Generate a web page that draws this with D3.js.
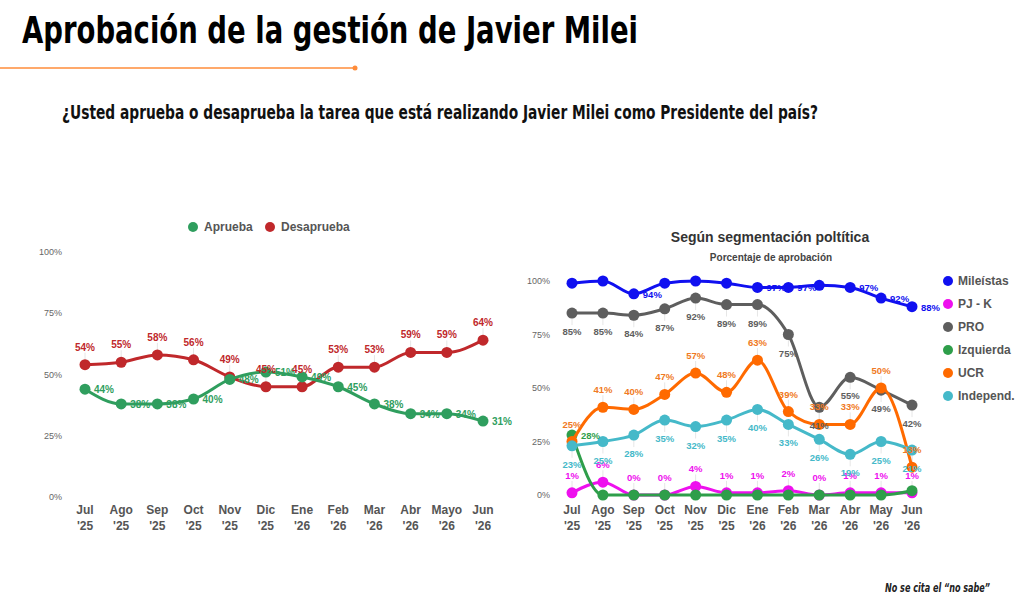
<!DOCTYPE html>
<html>
<head>
<meta charset="utf-8">
<script src="https://cdn.jsdelivr.net/npm/d3@7"></script>
<style>
  body { margin: 0; background: #fff; }
  svg { display: block; }
  .narrow { font-family: "Liberation Sans Narrow", "DejaVu Sans Condensed", sans-serif; font-weight: bold; }
  .sans { font-family: "Liberation Sans", Arial, sans-serif; }
</style>
</head>
<body>
<svg id="chart" width="1024" height="598"></svg>
<script>
// months shared by both panels (two-line tick labels)
var months = ["Jul", "Ago", "Sep", "Oct", "Nov", "Dic", "Ene", "Feb", "Mar", "Abr", "Mayo", "Jun"];
var monthsShort = ["Jul", "Ago", "Sep", "Oct", "Nov", "Dic", "Ene", "Feb", "Mar", "Abr", "May", "Jun"];
var years = ["'25", "'25", "'25", "'25", "'25", "'25", "'26", "'26", "'26", "'26", "'26", "'26"];
var yTicks = [0, 25, 50, 75, 100];

// left panel: total
var aprueba = [44, 38, 38, 40, 48, 51, 49, 45, 38, 34, 34, 31];
var desaprueba = [54, 55, 58, 56, 49, 45, 45, 53, 53, 59, 59, 64];

// right panel: approval by political segment
var segments = ["Mileístas", "PJ - K", "PRO", "Izquierda", "UCR", "Independ."];
var mileistas = [99, 100, 94, 99, 100, 99, 97, 97, 98, 97, 92, 88];
var pjk = [1, 6, 0, 0, 4, 1, 1, 2, 0, 1, 1, 1];
var pro = [85, 85, 84, 87, 92, 89, 89, 75, 41, 55, 49, 42];
var izquierda = [28, 0, 0, 0, 0, 0, 0, 0, 0, 0, 0, 2];
var ucr = [25, 41, 40, 47, 57, 48, 63, 39, 33, 33, 50, 13];
var independ = [23, 25, 28, 35, 32, 35, 40, 33, 26, 19, 25, 21];
// months whose label the original leaves out (overlaps)
var mileistasShown = [2, 6, 7, 9, 10, 11];
var izquierdaShown = [0];

var svg = d3.select("#chart");

// ---- header ----
svg.append("text")
    .attr("class", "narrow")
    .attr("x", 22).attr("y", 43)
    .attr("font-size", 38)
    .attr("textLength", 616)
    .attr("lengthAdjust", "spacingAndGlyphs")
    .attr("fill", "#000")
    .text("Aprobación de la gestión de Javier Milei");

svg.append("line")
    .attr("x1", 0).attr("x2", 355)
    .attr("y1", 68).attr("y2", 68)
    .attr("stroke", "#ff8c3a").attr("stroke-width", 1.5);
svg.append("circle")
    .attr("cx", 355).attr("cy", 68).attr("r", 2.5)
    .attr("fill", "#ff8c3a");

svg.append("text")
    .attr("class", "narrow")
    .attr("x", 62).attr("y", 119)
    .attr("font-size", 19)
    .attr("textLength", 756)
    .attr("lengthAdjust", "spacingAndGlyphs")
    .attr("fill", "#111")
    .text("¿Usted aprueba o desaprueba la tarea que está realizando Javier Milei como Presidente del país?");

svg.append("text")
    .attr("class", "narrow")
    .attr("x", 885).attr("y", 592)
    .attr("font-size", 12)
    .attr("font-style", "italic")
    .attr("textLength", 105)
    .attr("lengthAdjust", "spacingAndGlyphs")
    .attr("fill", "#222")
    .text("No se cita el \u201cno sabe\u201d");

/**
 * draws y tick labels and two-line month labels for one panel
 */
function drawAxes(g, x, y, labelRight, xLabels) {
    g.append("g").selectAll("text")
        .data(yTicks)
        .join("text")
        .attr("class", "sans")
        .attr("x", labelRight)
        .attr("y", function(d) { return y(d) + 3; })
        .attr("text-anchor", "end")
        .attr("font-size", 9)
        .attr("fill", "#666")
        .text(function(d) { return d + "%"; });

    var ticks = g.append("g").selectAll("g")
        .data(xLabels)
        .join("g")
        .attr("transform", function(d, i) { return "translate(" + x(i) + ",0)"; });
    ticks.append("text")
        .attr("class", "sans")
        .attr("y", 514)
        .attr("text-anchor", "middle")
        .attr("font-size", 12)
        .attr("font-weight", "bold")
        .attr("fill", "#555")
        .text(function(d) { return d; });
    ticks.append("text")
        .attr("class", "sans")
        .attr("y", 530)
        .attr("text-anchor", "middle")
        .attr("font-size", 12)
        .attr("font-weight", "bold")
        .attr("fill", "#555")
        .text(function(d, i) { return years[i]; });
}

/**
 * line + points for one series
 */
function drawSeries(g, x, y, values, color, width, r) {
    var line = d3.line()
        .x(function(d, i) { return x(i); })
        .y(function(d) { return y(d); })
        .curve(d3.curveMonotoneX);
    g.append("path")
        .datum(values)
        .attr("d", line)
        .attr("fill", "none")
        .attr("stroke", color)
        .attr("stroke-width", width)
        .attr("stroke-linejoin", "round");
    g.append("g").selectAll("circle")
        .data(values)
        .join("circle")
        .attr("cx", function(d, i) { return x(i); })
        .attr("cy", function(d) { return y(d); })
        .attr("r", r)
        .attr("fill", color);
}

function labelData(values, shown) {
    return values.map(function(v, i) { return {v: v, i: i}; })
        .filter(function(d) { return !shown || shown.indexOf(d.i) >= 0; });
}

/**
 * faint annotation stems, drawn under the lines
 */
function drawStems(g, x, y, values, pos, shown) {
    if (pos == "right") return;
    g.append("g").selectAll("line")
        .data(labelData(values, shown))
        .join("line")
        .attr("x1", function(d) { return x(d.i); })
        .attr("x2", function(d) { return x(d.i); })
        .attr("y1", function(d) { return y(d.v); })
        .attr("y2", function(d) { return y(d.v) + (pos == "above" ? -12 : 12); })
        .attr("stroke", "#e6e6e6")
        .attr("stroke-width", 1);
}

/**
 * annotations: pos is "above", "below" or "right"
 */
function drawLabels(g, x, y, values, color, pos, size, shown) {
    var dy = pos == "above" ? -14 : (pos == "below" ? 22 : 4);
    var dx = pos == "right" ? 9 : 0;
    g.append("g").selectAll("text")
        .data(labelData(values, shown))
        .join("text")
        .attr("class", "sans")
        .attr("x", function(d) { return x(d.i) + dx; })
        .attr("y", function(d) { return y(d.v) + dy; })
        .attr("text-anchor", pos == "right" ? "start" : "middle")
        .attr("font-size", size)
        .attr("font-weight", "bold")
        .attr("fill", color)
        .text(function(d) { return d.v + "%"; });
}

// ---- left panel ----
var xL = d3.scalePoint().domain(d3.range(12)).range([85, 483]);
var yL = d3.scaleLinear().domain([0, 100]).range([497, 252]);
var left = svg.append("g");
drawAxes(left, xL, yL, 62, months);

var cAprueba = "#2f9e5e", cDesaprueba = "#c0282b";
drawStems(left, xL, yL, desaprueba, "above");
drawSeries(left, xL, yL, desaprueba, cDesaprueba, 3, 5.5);
drawSeries(left, xL, yL, aprueba, cAprueba, 3, 5.5);
drawLabels(left, xL, yL, desaprueba, cDesaprueba, "above", 10);
drawLabels(left, xL, yL, aprueba, cAprueba, "right", 10);

// legend
var legL = left.append("g");
[["Aprueba", cAprueba, 193], ["Desaprueba", cDesaprueba, 270]].forEach(function(d) {
    legL.append("circle").attr("cx", d[2]).attr("cy", 227).attr("r", 5).attr("fill", d[1]);
    legL.append("text")
        .attr("class", "sans")
        .attr("x", d[2] + 11).attr("y", 231)
        .attr("font-size", 12).attr("font-weight", "bold")
        .attr("fill", "#555")
        .text(d[0]);
});

// ---- right panel ----
var xR = d3.scalePoint().domain(d3.range(12)).range([572, 912]);
var yR = d3.scaleLinear().domain([0, 100]).range([495, 281]);
var right = svg.append("g");
drawAxes(right, xR, yR, 550, monthsShort);

right.append("text")
    .attr("class", "sans")
    .attr("x", 770).attr("y", 242)
    .attr("text-anchor", "middle")
    .attr("font-size", 14).attr("font-weight", "bold")
    .attr("fill", "#333")
    .text("Según segmentación poltítica");
right.append("text")
    .attr("class", "sans")
    .attr("x", 771).attr("y", 261)
    .attr("text-anchor", "middle")
    .attr("font-size", 10).attr("font-weight", "bold")
    .attr("fill", "#444")
    .text("Porcentaje de aprobación");

var segColors = ["#1010f0", "#ee10ee", "#5e5e5e", "#2e9e4a", "#ff6a00", "#45b9c9"];
var segValues = [mileistas, pjk, pro, izquierda, ucr, independ];
drawStems(right, xR, yR, pjk, "above");
drawStems(right, xR, yR, pro, "below");
drawStems(right, xR, yR, ucr, "above");
drawStems(right, xR, yR, independ, "below");
segValues.forEach(function(v, k) {
    drawSeries(right, xR, yR, v, segColors[k], 3, 5.5);
});
drawLabels(right, xR, yR, mileistas, segColors[0], "right", 9.5, mileistasShown);
drawLabels(right, xR, yR, pjk, segColors[1], "above", 9.5);
drawLabels(right, xR, yR, pro, segColors[2], "below", 9.5);
drawLabels(right, xR, yR, izquierda, segColors[3], "right", 9.5, izquierdaShown);
drawLabels(right, xR, yR, ucr, "#f07a24", "above", 9.5);
drawLabels(right, xR, yR, independ, segColors[5], "below", 9.5);

// legend
var legR = right.append("g").selectAll("g")
    .data(segments)
    .join("g")
    .attr("transform", function(d, i) { return "translate(948," + (281 + i * 23) + ")"; });
legR.append("circle").attr("r", 5).attr("fill", function(d, i) { return segColors[i]; });
legR.append("text")
    .attr("class", "sans")
    .attr("x", 10).attr("y", 4)
    .attr("font-size", 12).attr("font-weight", "bold")
    .attr("fill", "#555")
    .text(function(d) { return d; });
</script>
</body>
</html>
